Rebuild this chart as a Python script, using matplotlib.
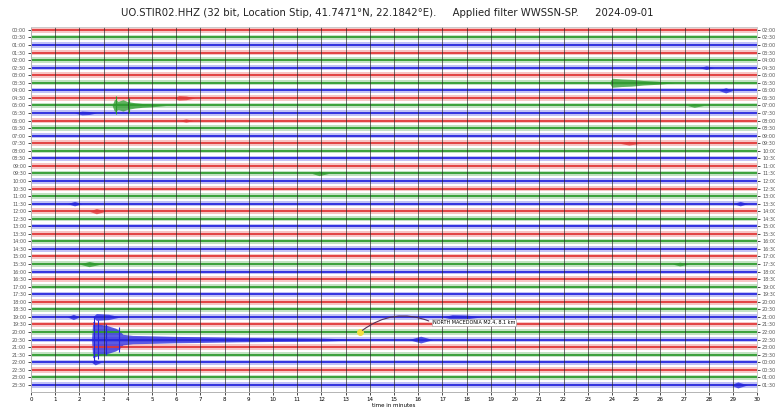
import matplotlib
matplotlib.use("Agg")
import matplotlib.pyplot as plt

# helicorder: 48 lines of 30 minutes each, UTC on the left, local (UTC+2) on the right
n_rows = 48
utc_labels = [f"{(i // 2):02d}:{(i % 2) * 30:02d}" for i in range(n_rows)]
local_labels = [f"{((i // 2) + 2) % 24:02d}:{(i % 2) * 30:02d}" for i in range(n_rows)]
minute_ticks = list(range(0, 31))

row_colors = ["#e03535", "#2c9a2c", "#2424dc"]

# events: (row, minutes, half-amplitude in rows)
events = [
    (10, [3.35, 3.45, 3.6, 3.8, 4.0, 4.3, 4.6, 5.0, 5.6], [0, 0.8, 0.55, 0.75, 0.5, 0.35, 0.25, 0.18, 0]),
    (9, [5.9, 6.1, 6.4, 6.8], [0, 0.3, 0.25, 0]),
    (11, [1.8, 2.1, 2.4, 2.7], [0, 0.25, 0.2, 0]),
    (12, [6.1, 6.4, 6.7], [0, 0.22, 0]),
    (7, [23.9, 24.0, 24.4, 24.8, 25.3, 25.9, 26.6], [0, 0.6, 0.5, 0.45, 0.3, 0.2, 0]),
    (10, [27.1, 27.4, 27.8], [0, 0.25, 0]),
    (8, [28.4, 28.7, 29.0], [0, 0.35, 0]),
    (5, [27.6, 27.9, 28.2], [0, 0.25, 0]),
    (15, [24.3, 24.7, 25.2], [0, 0.25, 0]),
    (19, [11.6, 11.9, 12.3], [0, 0.3, 0]),
    (23, [1.5, 1.8, 2.1], [0, 0.3, 0]),
    (24, [2.4, 2.7, 3.1], [0, 0.35, 0]),
    (31, [2.0, 2.4, 2.9], [0, 0.35, 0]),
    (31, [26.5, 26.8, 27.2], [0, 0.25, 0]),
    (23, [29.0, 29.3, 29.6], [0, 0.3, 0]),
    (38, [1.5, 1.75, 2.0], [0, 0.35, 0]),
    (38, [2.55, 2.7, 3.2, 3.7], [0, 0.45, 0.35, 0]),
    (38, [17.0, 17.4, 18.0, 18.6], [0, 0.3, 0.25, 0]),
    (41, [2.5, 2.55, 2.7, 2.9, 3.1, 3.3, 3.5, 3.65, 3.8, 4.2, 5.0, 6.0, 7.0, 8.5, 10.0, 12.0, 14.0],
     [0, 2.4, 2.2, 2.0, 1.9, 1.7, 1.5, 1.2, 0.7, 0.55, 0.5, 0.42, 0.38, 0.3, 0.25, 0.2, 0]),
    (41, [15.6, 16.1, 16.6], [0, 0.45, 0]),
    (44, [2.5, 2.65, 2.9], [0, 0.35, 0]),
    (47, [28.9, 29.2, 29.6], [0, 0.4, 0]),
]

# large spikes of the quake crossing neighbouring lines: (row, minute, half-amplitude)
spikes = [(41, 2.6, 3.1), (41, 2.75, 2.6), (41, 3.1, 2.1), (41, 3.65, 1.7),
          (10, 3.5, 1.2), (10, 4.05, 1.0)]

event_label = "NORTH MACEDONIA M2.4, 8.1 km"
event_pos = (13.6, 40)
label_pos = (16.6, 38.75)

fig = plt.figure(figsize=(7.75, 4.07), dpi=100)
ax = fig.add_axes([0.04, 0.037, 0.937, 0.897])

for i in range(n_rows):
    c = row_colors[i % 3]
    ax.fill_between([0, 30], [i - 0.36, i - 0.36], [i + 0.36, i + 0.36], color=c, alpha=0.28, lw=0)
    ax.plot([0, 30], [i, i], color=c, lw=1.4, alpha=0.9)

for row, t, amp in events:
    c = row_colors[row % 3]
    lo = [row - a for a in amp]
    hi = [row + a for a in amp]
    ax.fill_between(t, lo, hi, color=c, alpha=0.75, lw=0)

for row, t, a in spikes:
    ax.vlines(t, row - a, row + a, color=row_colors[row % 3], lw=0.8)

for m in minute_ticks:
    ax.axvline(m, color="#222222", lw=0.6, alpha=0.75, zorder=3)

ax.plot(*event_pos, "o", color="#f3e040", ms=4, zorder=5)
ax.annotate(event_label, xy=event_pos, xytext=label_pos, fontsize=3.5, va="center",
            arrowprops=dict(arrowstyle="-", connectionstyle="arc3,rad=0.3", color="#553355",
                            lw=0.8, relpos=(0, 0.5)),
            bbox=dict(boxstyle="square,pad=0.25", fc="white", ec="#aaaaaa", lw=0.5), zorder=6)

ax.set_xlim(0, 30)
ax.set_ylim(n_rows - 0.07, -0.4)
ax.set_xticks(minute_ticks)
ax.set_xticklabels([str(m) for m in minute_ticks], fontsize=4)
ax.set_yticks(range(n_rows))
ax.set_yticklabels(utc_labels, fontsize=3.5, color="#555555")
ax.tick_params(axis="both", length=2, width=0.5, pad=1.5)

ax2 = ax.twinx()
ax2.set_ylim(ax.get_ylim())
ax2.set_yticks(range(n_rows))
ax2.set_yticklabels(local_labels, fontsize=3.5, color="#555555")
ax2.tick_params(axis="y", length=2, width=0.5, pad=1.5)

for a in (ax, ax2):
    for s in a.spines.values():
        s.set_linewidth(0.6)
        s.set_color("#cccccc")
ax.spines["left"].set_color("#222222")
ax.spines["bottom"].set_color("#222222")

ax.set_xlabel("time in minutes", fontsize=4, labelpad=1)
fig.suptitle("UO.STIR02.HHZ (32 bit, Location Stip, 41.7471°N, 22.1842°E).     "
             "Applied filter WWSSN-SP.     2024-09-01", fontsize=7.3, y=0.98, color="#222222")

fig.savefig("out.png", dpi=100)
